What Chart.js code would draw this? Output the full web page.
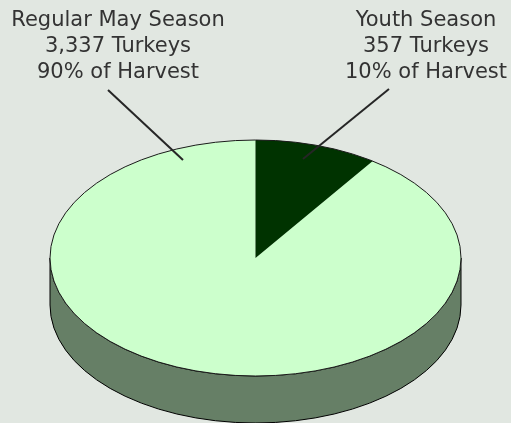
<!DOCTYPE html>
<html>
<head>
<meta charset="utf-8">
<script src="https://cdn.jsdelivr.net/npm/chart.js@4.4.1/dist/chart.umd.min.js"></script>
<style>
  html, body { margin: 0; padding: 0; background: #e1e7e1; }
  #wrap { width: 511px; height: 423px; }
</style>
</head>
<body>
<div id="wrap"><canvas id="turkey-pie" width="511" height="423"></canvas></div>
<script>
const seasons = ['Regular May Season', 'Youth Season'];
const turkeys = [3337, 357];
const labelLines = [
    ['Regular May Season', '3,337 Turkeys', '90% of Harvest'],
    ['Youth Season', '357 Turkeys', '10% of Harvest']
];
const topColors = ['#ccffcc', '#003300'];
const sideColors = ['#667f66', '#001a00'];

// tilt of the pie: vertical squash and wall depth
const tilt = 118 / 205.5;
const depth = 47;

// youth slice sits clockwise from 12 o'clock, so regular starts after it
const total = turkeys.reduce((a, b) => a + b, 0);
const startRotation = 360 * turkeys[1] / total;

// label text centre + leader line (start, end)
const labelPos = [
    { x: 118, y: 26, line: [108, 90, 183, 160] },
    { x: 426, y: 26, line: [389, 89, 303, 159] }
];

const pie3d = {
    id: 'pie3d',
    beforeDatasetsDraw(chart) {
        const ctx = chart.ctx;
        const arcs = chart.getDatasetMeta(0).data;
        const cx = arcs[0].x, cy = arcs[0].y;
        const rx = arcs[0].outerRadius, ry = rx * tilt;
        // front wall
        arcs.forEach((arc, i) => {
            let a0 = arc.startAngle, a1 = arc.endAngle;
            // clip to the visible front half (0..PI)
            const segs = [];
            for (let k = -1; k <= 2; k++) {
                const s = Math.max(a0, 2 * Math.PI * k), e = Math.min(a1, Math.PI + 2 * Math.PI * k);
                if (e > s) segs.push([s, e]);
            }
            segs.forEach(([s, e]) => {
                ctx.save();
                ctx.beginPath();
                ctx.ellipse(cx, cy, rx, ry, 0, s, e, false);
                ctx.ellipse(cx, cy + depth, rx, ry, 0, e, s, true);
                ctx.closePath();
                ctx.fillStyle = sideColors[i];
                ctx.fill();
                ctx.lineWidth = 1;
                ctx.strokeStyle = '#000';
                ctx.stroke();
                ctx.restore();
            });
        });
        ctx.save();
        ctx.translate(cx, cy);
        ctx.scale(1, tilt);
        ctx.translate(-cx, -cy);
    },
    afterDatasetsDraw(chart) {
        const ctx = chart.ctx;
        ctx.restore();
        const arc = chart.getDatasetMeta(0).data[0];
        ctx.save();
        ctx.beginPath();
        ctx.ellipse(arc.x, arc.y, arc.outerRadius, arc.outerRadius * tilt, 0, 0, 2 * Math.PI);
        ctx.lineWidth = 1;
        ctx.strokeStyle = '#1a1a1a';
        ctx.stroke();
        ctx.restore();
    },
    afterDraw(chart) {
        const ctx = chart.ctx;
        ctx.save();
        ctx.font = '21px "DejaVu Sans", Verdana, sans-serif';
        ctx.fillStyle = '#333333';
        ctx.textAlign = 'center';
        ctx.textBaseline = 'alphabetic';
        labelLines.forEach((lines, i) => {
            const p = labelPos[i];
            lines.forEach((t, j) => ctx.fillText(t, p.x, p.y + j * 26));
            ctx.beginPath();
            ctx.moveTo(p.line[0], p.line[1]);
            ctx.lineTo(p.line[2], p.line[3]);
            ctx.lineWidth = 2;
            ctx.strokeStyle = '#262626';
            ctx.stroke();
        });
        ctx.restore();
    }
};

new Chart(document.getElementById('turkey-pie'), {
    type: 'pie',
    data: {
        labels: seasons,
        datasets: [{
            data: turkeys,
            backgroundColor: topColors,
            borderColor: topColors,
            borderWidth: 0,
            clip: false
        }]
    },
    options: {
        responsive: false,
        animation: false,
        radius: 205.5,
        rotation: startRotation,
        layout: { padding: { top: 93, bottom: 0, left: 0, right: 0 } },
        plugins: {
            legend: { display: false },
            tooltip: { enabled: false }
        }
    },
    plugins: [pie3d]
});
</script>
</body>
</html>
